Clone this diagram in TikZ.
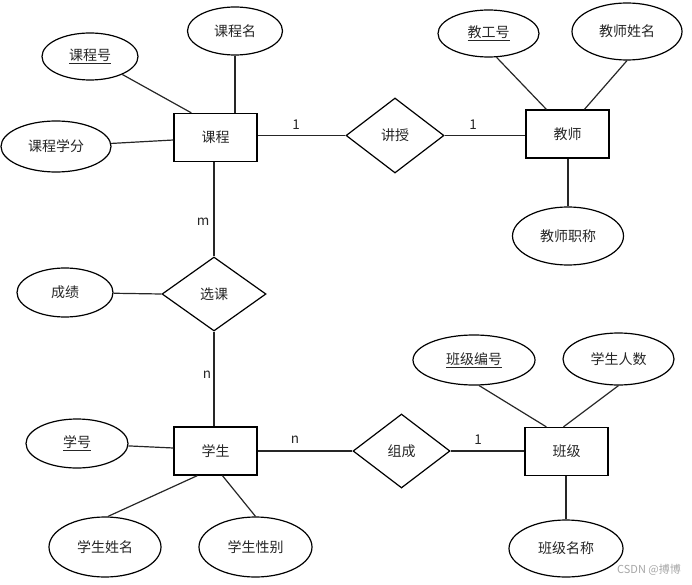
\documentclass[tikz,border=0pt]{standalone}
\usepackage{fontspec}
\newfontfamily\cjk{Noto Sans CJK SC}
\usetikzlibrary{shapes.geometric,calc}
\begin{document}
\begin{tikzpicture}[x=1pt,y=-1pt,
  every node/.style={font=\cjk\fontsize{14}{16}\selectfont, text=black!85},
  ent/.style={draw, line width=1.2pt, rectangle, minimum width=83pt, minimum height=48pt, inner sep=0pt},
  rel/.style={draw, line width=1.2pt, diamond, inner sep=0pt},
  attr/.style={draw, line width=1.2pt, ellipse, inner sep=0pt},
  conn/.style={line width=1.2pt, black!85},
  card/.style={inner sep=0pt, font=\cjk\fontsize{13.5}{15}\selectfont}]
\useasboundingbox (0,0) rectangle (692,585);
% entities
\node[ent] (kc) at (215.5,137.5) {课程};
\node[ent] (js) at (567.5,134) {教师};
\node[ent] (xs) at (215.5,451) {学生};
\node[ent] (bj) at (566.5,451.5) {班级};
% relationships
\node[rel, minimum width=98pt, minimum height=75pt] (jsh) at (395,135.5) {讲授};
\node[rel, minimum width=104pt, minimum height=74pt] (xk) at (214,294) {选课};
\node[rel, minimum width=97pt, minimum height=74pt] (zc) at (401.5,451) {组成};
% attributes
\node[attr, minimum width=95pt, minimum height=48pt] (kcm) at (235,31) {课程名};
\node[attr, minimum width=96pt, minimum height=47pt] (kch) at (90,56.5) {\underline{课程号}};
\node[attr, minimum width=110pt, minimum height=51pt] (kcxf) at (56,146.5) {课程学分};
\node[attr, minimum width=101pt, minimum height=47pt] (jgh) at (488.5,33.5) {\underline{教工号}};
\node[attr, minimum width=110pt, minimum height=57pt] (jsxm) at (627,31.5) {教师姓名};
\node[attr, minimum width=111pt, minimum height=58pt] (jszc) at (568,236) {教师职称};
\node[attr, minimum width=96pt, minimum height=49pt] (cj) at (65,292.5) {成绩};
\node[attr, minimum width=102pt, minimum height=49pt] (xh) at (77,443.5) {\underline{学号}};
\node[attr, minimum width=112pt, minimum height=60pt] (xsxm) at (105,547) {学生姓名};
\node[attr, minimum width=113pt, minimum height=60pt] (xsxb) at (255.5,547) {学生性别};
\node[attr, minimum width=122pt, minimum height=50pt] (bjbh) at (474,360) {\underline{班级编号}};
\node[attr, minimum width=111pt, minimum height=52pt] (xsrs) at (618.5,359) {学生人数};
\node[attr, minimum width=114pt, minimum height=57pt] (bjmc) at (566,548.5) {班级名称};
% relationship connectors
\draw[conn] (jsh.west) -- (jsh.west -| kc.east);
\draw[conn] (jsh.east) -- (jsh.east -| js.west);
\draw[conn] (xk.north) -- (xk.north |- kc.south);
\draw[conn] (xk.south) -- (xk.south |- xs.north);
\draw[conn] (cj) -- (xk.west);
\draw[conn] (zc.west) -- (zc.west -| xs.east);
\draw[conn] (zc.east) -- (zc.east -| bj.west);
% attribute connectors
\draw[conn] (kch) -- ($(kc.north west)+(18,0)$);
\draw[conn] (kcm.south) -- (kcm.south |- kc.north);
\draw[conn] (kcxf) -- ($(kc.west)+(0,2.5)$);
\draw[conn] ($(jgh.south)+(8,-0.3)$) -- ($(js.north west)+(21,0)$);
\draw[conn] (jsxm.south) -- ($(js.north west)+(59,0)$);
\draw[conn] (jszc.north) -- (jszc.north |- js.south);
\draw[conn] (xh) -- ($(xs.west)+(0,-3)$);
\draw[conn] ($(xsxm.north)+(3,0)$) -- ($(xs.south west)+(24,0)$);
\draw[conn] (xsxb.north) -- ($(xs.south west)+(49,0)$);
\draw[conn] ($(bjbh.south)+(5,-0.1)$) -- ($(bj.north west)+(22,0)$);
\draw[conn] (xsrs.south) -- ($(bj.north west)+(39,0)$);
\draw[conn] (bjmc.north) -- (bjmc.north |- bj.south);
% cardinalities
\node[card] (c1) at (296,125) {1};
\node[card] (c2) at (473,125) {1};
\node[card] (c3) at (203,222) {m};
\node[card] (c4) at (207,375) {n};
\node[card] (c5) at (295,440) {n};
\node[card] (c6) at (478,440) {1};
% watermark
\node[font=\cjk\fontsize{11}{13}\selectfont, text=black!35, inner sep=0pt] (wm) at (649,570) {CSDN @搏博};
\end{tikzpicture}
\end{document}
